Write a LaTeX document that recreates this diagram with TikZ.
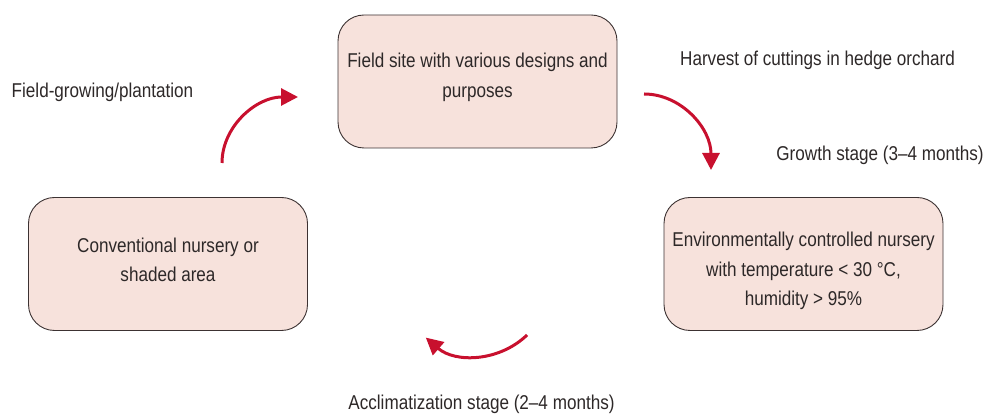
\documentclass[tikz,border=0pt]{standalone}
\usepackage{fontspec}
\setmainfont{Liberation Sans}[FakeStretch=0.855]
\usetikzlibrary{arrows.meta}
\definecolor{boxfill}{RGB}{247,226,220}
\definecolor{boxline}{RGB}{60,50,50}
\definecolor{flowred}{RGB}{200,16,46}
\definecolor{txt}{RGB}{45,40,40}
\tikzset{
  stagebox/.style={draw=boxline, line width=0.9pt, fill=boxfill, rounded corners=26pt,
    minimum width=279pt, minimum height=133pt, inner sep=0pt},
  boxtext/.style={align=center, text=txt, inner sep=0pt,
    font=\fontsize{20pt}{29.5pt}\selectfont},
  caption/.style={text=txt, font=\fontsize{20pt}{22pt}\selectfont, inner sep=0pt},
  flow/.style={draw=flowred, line width=3pt, -{Triangle[length=17pt,width=17pt]}}
}
\begin{document}
\begin{tikzpicture}[x=1pt,y=1pt]
\useasboundingbox (0,0) rectangle (984,414);
% the three stations of the propagation cycle
\node[stagebox] (field) at (477.5,332.5) {};
\node[boxtext] (fieldtxt) at ([yshift=4pt]field.center) {Field site with various designs and\\purposes};
\node[stagebox] (nursery) at (803.5,150) {};
\node[boxtext] (nurserytxt) at ([yshift=-7pt]nursery.center) {Environmentally controlled nursery\\with temperature < 30 °C,\\humidity > 95\%};
\node[stagebox] (shade) at (168,150) {};
\node[boxtext] (shadetxt) at ([yshift=4pt]shade.center) {Conventional nursery or\\shaded area};
% stage captions
\node[caption] (harvest) at (817.5,354) {Harvest of cuttings in hedge orchard};
\node[caption] (growth) at (880,259) {Growth stage (3–4 months)};
\node[caption] (acclim) at (481.5,10) {Acclimatization stage (2–4 months)};
\node[caption] (plant) at (102.5,322) {Field-growing/plantation};
% curved cycle arrows
\coordinate (a1) at (644,320);
\draw[flow] (a1) arc[start angle=90, end angle=0, x radius=67, y radius=76];
\coordinate (a2) at ({475+75*cos(-46)},{133+75*sin(-46)});
\draw[flow] (a2) arc[start angle=-46, end angle=-131, radius=75];
\coordinate (a3) at (222,251);
\draw[flow] (a3) arc[start angle=180, end angle=90, x radius=76, y radius=66];
\end{tikzpicture}
\end{document}
